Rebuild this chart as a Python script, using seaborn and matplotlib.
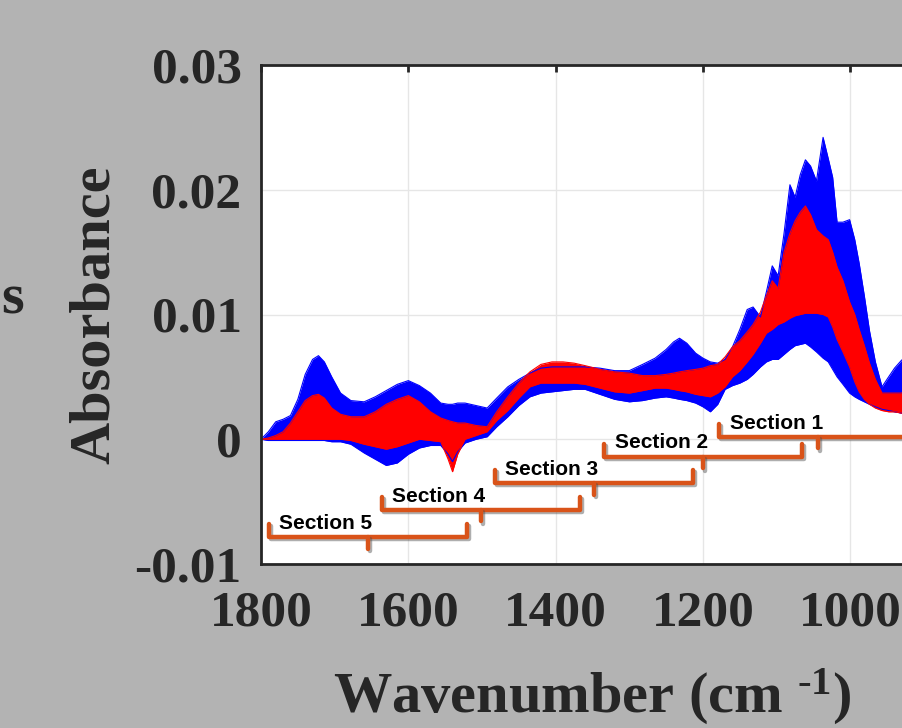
import matplotlib
matplotlib.use("Agg")
import matplotlib.pyplot as plt
import matplotlib.patheffects as pe
import pandas as pd
import seaborn as sns

# Spectra envelopes (wavenumber in cm^-1, absorbance)
wavenumber = [1800, 1790, 1780, 1770, 1760, 1750, 1740, 1730, 1722, 1714, 1704, 1692, 1678,
              1660, 1645, 1630, 1615, 1600, 1585, 1570, 1556, 1546, 1540, 1533, 1523, 1508,
              1493, 1480, 1465, 1450, 1435, 1420, 1405, 1390, 1375, 1360, 1340, 1320, 1300,
              1282, 1265, 1250, 1240, 1232, 1222, 1210, 1200, 1190, 1180, 1170, 1160, 1150,
              1140, 1132, 1122, 1114, 1106, 1098, 1090, 1082, 1075, 1068, 1061, 1054, 1046,
              1037, 1030, 1024, 1018, 1010, 1001, 994, 988, 981, 974, 966, 957, 948, 940,
              931, 915, 900]

blue_hi = [0.0, 0.0006, 0.0014, 0.0016, 0.0019, 0.0032, 0.0052, 0.0064, 0.0067, 0.0062,
           0.0050, 0.0037, 0.0031, 0.0030, 0.0034, 0.0039, 0.0044, 0.0047, 0.0043, 0.0037,
           0.0029, 0.0028, 0.0028, 0.0029, 0.0029, 0.0027, 0.0025, 0.0033, 0.0042, 0.0048,
           0.0053, 0.0057, 0.0058, 0.0058, 0.0058, 0.0058, 0.0057, 0.0055, 0.0055, 0.0060,
           0.0065, 0.0072, 0.0078, 0.0081, 0.0077, 0.0069, 0.0065, 0.0062, 0.0061, 0.0064,
           0.0074, 0.0088, 0.0104, 0.0106, 0.0098, 0.0118, 0.0139, 0.0131, 0.0165, 0.0204,
           0.0194, 0.0212, 0.0224, 0.0219, 0.0207, 0.0242, 0.0225, 0.0210, 0.0174, 0.0174,
           0.0176, 0.0160, 0.0141, 0.0115, 0.0087, 0.0062, 0.0042, 0.0050, 0.0057, 0.0063,
           0.0072, 0.0080]

blue_lo = [0.0, -0.0001, -0.0001, -0.0001, -0.0001, -0.0001, -0.0001, -0.0001, -0.0001,
           -0.0001, -0.0002, -0.0002, -0.0004, -0.0011, -0.0016, -0.0021, -0.0019, -0.0012,
           -0.0007, -0.0005, -0.0005, -0.0012, -0.0018, -0.0010, -0.0003, 0.0, 0.0002,
           0.0010, 0.0018, 0.0027, 0.0034, 0.0037, 0.0038, 0.0039, 0.0040, 0.0040, 0.0036,
           0.0032, 0.0030, 0.0031, 0.0033, 0.0034, 0.0033, 0.0032, 0.0031, 0.0029, 0.0026,
           0.0022, 0.0028, 0.0040, 0.0043, 0.0045, 0.0048, 0.0052, 0.0058, 0.0062, 0.0064,
           0.0064, 0.0068, 0.0072, 0.0075, 0.0076, 0.0077, 0.0074, 0.0070, 0.0065, 0.0062,
           0.0056, 0.0050, 0.0044, 0.0037, 0.0034, 0.0032, 0.0030, 0.0028, 0.0026, 0.0024,
           0.0023, 0.0022, 0.0021, 0.0020, 0.0019]

red_hi = [0.0, 0.0001, 0.0003, 0.0006, 0.0013, 0.0022, 0.0031, 0.0035, 0.0036, 0.0033,
          0.0025, 0.0020, 0.0018, 0.0018, 0.0022, 0.0028, 0.0032, 0.0035, 0.0030, 0.0022,
          0.0017, 0.0015, 0.0014, 0.0013, 0.0013, 0.0011, 0.0010, 0.0022, 0.0034, 0.0045,
          0.0054, 0.0060, 0.0062, 0.0062, 0.0061, 0.0059, 0.0056, 0.0054, 0.0053, 0.0051,
          0.0051, 0.0052, 0.0053, 0.0054, 0.0055, 0.0056, 0.0057, 0.0059, 0.0060, 0.0066,
          0.0074, 0.0079, 0.0086, 0.0092, 0.0102, 0.0115, 0.0127, 0.0121, 0.0150, 0.0165,
          0.0175, 0.0182, 0.0187, 0.0180, 0.0168, 0.0163, 0.0160, 0.0150, 0.0138, 0.0127,
          0.0110, 0.0100, 0.0088, 0.0075, 0.0061, 0.0048, 0.0037, 0.0037, 0.0037, 0.0037,
          0.0040, 0.0042]

red_lo = [0.0, 0.0, 0.0, 0.0, 0.0, 0.0, 0.0, 0.0, 0.0, 0.0, 0.0, 0.0, -0.0001, -0.0004,
          -0.0006, -0.0008, -0.0006, -0.0003, 0.0, -0.0001, -0.0002, -0.0016, -0.0026,
          -0.0012, 0.0, 0.0003, 0.0006, 0.0015, 0.0023, 0.0033, 0.0042, 0.0045, 0.0045,
          0.0045, 0.0045, 0.0044, 0.0041, 0.0038, 0.0037, 0.0039, 0.0041, 0.0041, 0.0040,
          0.0039, 0.0038, 0.0036, 0.0035, 0.0034, 0.0037, 0.0042, 0.0050, 0.0055, 0.0062,
          0.0068, 0.0077, 0.0085, 0.0088, 0.0092, 0.0094, 0.0097, 0.0099, 0.0100, 0.0101,
          0.0101, 0.0101, 0.0100, 0.0098, 0.0090, 0.0080, 0.0070, 0.0058, 0.0046, 0.0038,
          0.0032, 0.0028, 0.0025, 0.0023, 0.0022, 0.0022, 0.0021, 0.0020, 0.0019]

# Section brackets
section_names = ["Section 1", "Section 2", "Section 3", "Section 4", "Section 5"]
section_start = [1178, 1334, 1483, 1636, 1789]
section_end = [910, 1066, 1214, 1367, 1521]
section_level = [0.00016, -0.00144, -0.00353, -0.00569, -0.00786]

x_ticks = [1800, 1600, 1400, 1200, 1000]
y_ticks = [-0.01, 0, 0.01, 0.02, 0.03]
y_tick_labels = ["-0.01", "0", "0.01", "0.02", "0.03"]

sns.set_style("whitegrid")
plt.rcParams["font.family"] = ["Liberation Serif", "DejaVu Serif"]
plt.rcParams["font.weight"] = "bold"
plt.rcParams["mathtext.fontset"] = "custom"
plt.rcParams["mathtext.rm"] = "Liberation Serif:bold"
plt.rcParams["mathtext.bf"] = "Liberation Serif:bold"
plt.rcParams["mathtext.it"] = "Liberation Serif:bold"

fig = plt.figure(figsize=(9.02, 7.28), dpi=100, facecolor="#b3b3b3")
ax = fig.add_axes([261 / 902, 1 - 564 / 728, 663 / 902, 499 / 728])
ax.set_facecolor("white")

spectra = pd.DataFrame({"wn": wavenumber, "blue_hi": blue_hi, "blue_lo": blue_lo,
                        "red_hi": red_hi, "red_lo": red_lo})

for group, color in [("blue", "#0000ff"), ("red", "#ff0000")]:
    ax.fill_between(spectra["wn"], spectra[group + "_lo"], spectra[group + "_hi"],
                    color=color, lw=0)
    for edge in ["_hi", "_lo"]:
        sns.lineplot(data=spectra, x="wn", y=group + edge, color=color, lw=0.8, ax=ax,
                     sort=False)

orange = "#d95319"
shadow = [pe.SimpleLineShadow(offset=(1.5, -1.5), shadow_color="0.3", alpha=0.45),
          pe.Normal()]
for name, x0, x1, lev in zip(section_names, section_start, section_end, section_level):
    xm = (x0 + x1) / 2
    ax.plot([x0, x0, x1, x1], [lev + 0.00105, lev, lev, lev + 0.00105], color=orange,
            lw=3.2, solid_joinstyle="round", solid_capstyle="round", path_effects=shadow)
    ax.plot([xm, xm], [lev, lev - 0.0009], color=orange, lw=3.2,
            solid_capstyle="round", path_effects=shadow)
    ax.text(x0 - 14, lev + 0.0007, name, fontsize=15, fontweight="bold",
            family=["Liberation Sans", "DejaVu Sans"], color="black", va="baseline",
            ha="left")

ax.set_xlim(1800, 900)
ax.set_ylim(-0.01, 0.03)
ax.set_xticks(x_ticks)
ax.set_yticks(y_ticks)
ax.set_yticklabels(y_tick_labels)
ax.grid(True, color="#e6e6e6", lw=1.0)
ax.tick_params(axis="both", direction="in", length=5, width=2, color="#262626",
               labelsize=37, labelcolor="#262626", top=True, right=True)
ax.tick_params(axis="x", pad=19)
ax.tick_params(axis="y", pad=14)
for lab in ax.get_xticklabels() + ax.get_yticklabels():
    lab.set_fontweight("bold")
for s in ax.spines.values():
    s.set_color("#262626")
    s.set_linewidth(2)

ax.set_xlabel(r"Wavenumber (cm $^{\text{-1}}$)", fontsize=42, fontweight="bold",
              color="#262626", labelpad=22)
ax.set_ylabel("Absorbance", fontsize=42, fontweight="bold", color="#262626", labelpad=10)

fig.text(1 / 902, 1 - 313 / 728, "s", fontsize=42, fontweight="bold", color="#262626",
         ha="left", va="baseline")

fig.savefig("out.png", dpi=100, facecolor=fig.get_facecolor())
